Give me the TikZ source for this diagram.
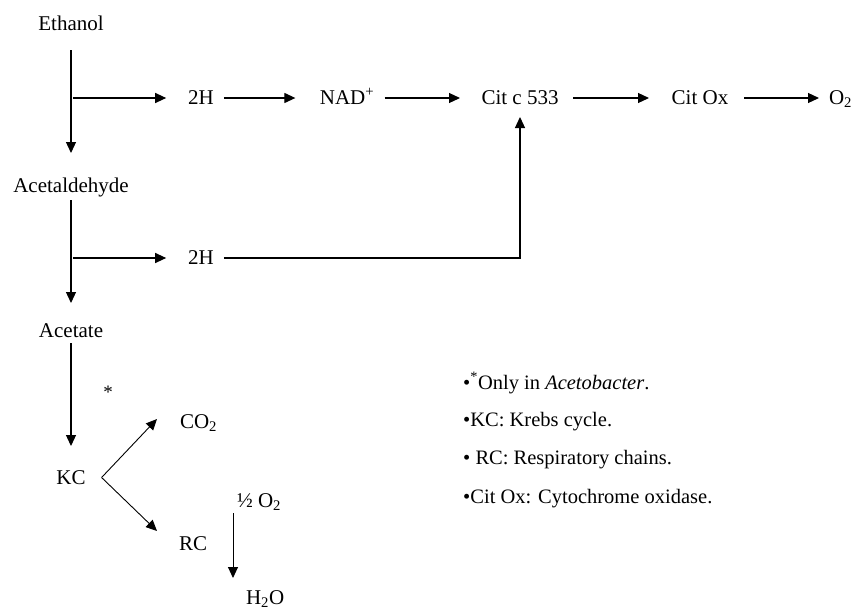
\documentclass[tikz,border=0pt]{standalone}
\usepackage{fontspec}
\setmainfont{Liberation Serif}
\usetikzlibrary{arrows.meta}
\begin{document}
\begin{tikzpicture}[x=1pt,y=-1pt,
  lbl/.style={inner sep=0pt, outer sep=0pt, text height=15pt, text depth=2pt, font=\fontsize{21}{25}\selectfont},
  leg/.style={inner sep=0pt, anchor=west, font=\fontsize{20.5}{25}\selectfont},
  arr/.style={line width=1.2pt, -{Triangle[length=11pt,width=10pt]}},
  tarr/.style={line width=0.9pt, -{Triangle[length=11pt,width=10pt]}},
  ln/.style={line width=1.2pt}]
\useasboundingbox (0,0) rectangle (851,611);
% main chain
\node[lbl] (eth) at (71,23.5) {Ethanol};
\node[lbl] (acd) at (71,185.5) {Acetaldehyde};
\node[lbl] (act) at (71,330.5) {Acetate};
\node[lbl] (kc) at (71,477.5) {KC};
\coordinate (j1) at (71,98);
\coordinate (j2) at (71,258);
% top row
\node[lbl] (h1) at (201,98) {2H};
\node[lbl] (nad) at (347,98) {NAD\textsuperscript{+}};
\node[lbl] (cit) at (520,98) {Cit c 533};
\node[lbl] (ox) at (700,98) {Cit Ox};
\node[lbl, anchor=west] (o2) at (829,98) {O\textsubscript{2}};
% second row
\node[lbl] (h2) at (201,258) {2H};
% lower part
\node[inner sep=0pt, font=\fontsize{19}{22}\selectfont] (star) at (108,392) {*};
\node[lbl, anchor=west] (co2) at (180,421.5) {CO\textsubscript{2}};
\node[lbl, anchor=west] (rc) at (179,543.5) {RC};
\node[lbl, anchor=west] (half) at (237,500.5) {½ O\textsubscript{2}};
\node[lbl, anchor=west] (h2o) at (246,597.5) {H\textsubscript{2}O};
% legend
\node[leg] (l1) at (463,383) {•\textsuperscript{*}Only in \textit{Acetobacter}.};
\node[leg] (l2) at (463,421.5) {•KC: Krebs cycle.};
\node[leg] (l3) at (463,460) {• RC: Respiratory chains.};
\node[leg] (l4) at (463,498.5) {•Cit Ox: Cytochrome oxidase.};
% connectors
\draw[arr, shorten <=18pt, shorten >=24pt] (eth) -- (acd);
\draw[arr, shorten <=6pt, shorten >=19pt] (acd) -- (act);
\draw[arr, shorten <=4pt, shorten >=23pt] (act) -- (kc);
\draw[arr, shorten <=2pt, shorten >=22pt] (j1) -- (h1);
\draw[arr, shorten <=10pt, shorten >=24.5pt] (h1) -- (nad);
\draw[arr, shorten <=10.5pt, shorten >=21.5pt] (nad) -- (cit);
\draw[arr, shorten <=14.5pt, shorten >=22.7pt] (cit) -- (ox);
\draw[arr, shorten <=15.7pt, shorten >=10pt] (ox) -- (o2.west);
\draw[arr, shorten <=2pt, shorten >=22pt] (j2) -- (h2);
\draw[arr, shorten <=10pt, shorten >=10.5pt] (h2) -- (h2 -| cit) -- (cit);
\draw[tarr] ([xshift=16pt]kc.east) -- ([xshift=-23pt,yshift=2.5pt]co2.west);
\draw[tarr] ([xshift=16pt]kc.east) -- ([xshift=-22pt,yshift=12.5pt]rc.west);
\draw[tarr] ([xshift=-4pt,yshift=-4pt]half.south west) -- ([xshift=-13pt,yshift=11pt]h2o.north west);
\end{tikzpicture}
\end{document}
